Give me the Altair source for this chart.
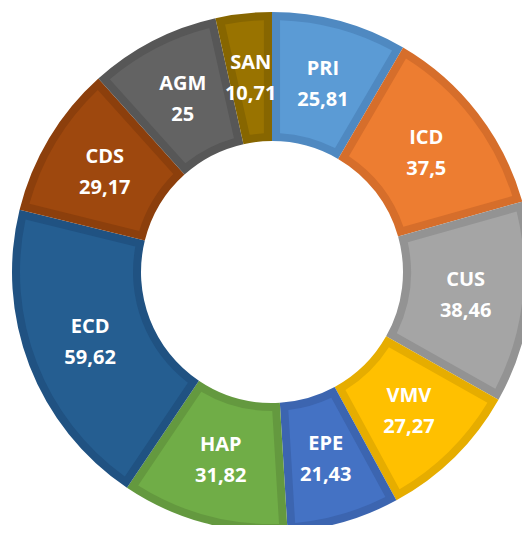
import altair as alt
import pandas as pd

categories = ["PRI", "ICD", "CUS", "VMV", "EPE", "HAP", "ECD", "CDS", "AGM", "SAN"]
values = [25.81, 37.5, 38.46, 27.27, 21.43, 31.82, 59.62, 29.17, 25, 10.71]
value_labels = ["25,81", "37,5", "38,46", "27,27", "21,43", "31,82", "59,62", "29,17", "25", "10,71"]

fill_colors = ["#5B9BD5", "#ED7D31", "#A5A5A5", "#FFC000", "#4472C4",
               "#70AD47", "#255E91", "#9E480E", "#636363", "#997300"]
border_colors = ["#4F89C1", "#D66E2B", "#939393", "#E6AD00", "#3C65B0",
                 "#64993F", "#205282", "#8C3F0C", "#575757", "#876600"]

df = pd.DataFrame({
    "cat": categories,
    "val": values,
    "lab": value_labels,
    "idx": list(range(len(categories))),
})

cx = alt.value(264)
cy = alt.value(264)

base = alt.Chart(df).encode(
    theta=alt.Theta("val:Q", stack=True),
    order=alt.Order("idx:Q"),
    x=cx,
    y=cy,
)

outer = base.mark_arc(innerRadius=131, outerRadius=260).encode(
    color=alt.Color("cat:N", scale=alt.Scale(domain=categories, range=border_colors), legend=None)
)
inner = base.mark_arc(innerRadius=139, outerRadius=252, padAngle=0.056).encode(
    color=alt.Color("cat:N", scale=alt.Scale(domain=categories, range=fill_colors), legend=None)
)
name_txt = base.mark_text(radius=195, dy=-15, font="Open Sans", fontWeight="bold",
                          fontSize=20, color="white").encode(text="cat:N")
val_txt = base.mark_text(radius=195, dy=16, font="Open Sans", fontWeight="bold",
                         fontSize=20, color="white").encode(text="lab:N")

chart = alt.layer(outer, inner, name_txt, val_txt).resolve_scale(color="independent").properties(
    width=514, height=517, padding=0, autosize=alt.AutoSizeParams(type="none")
).configure_view(stroke=None)

chart.save("out.html", embed_options={"renderer": "svg", "actions": False})
